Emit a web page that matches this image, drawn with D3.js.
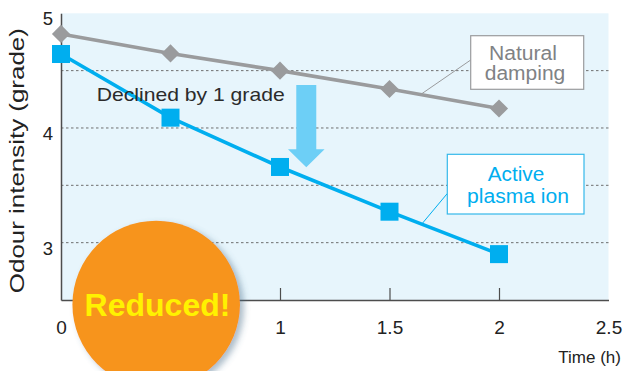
<!DOCTYPE html>
<html>
<head>
<meta charset="utf-8">
<script src="https://cdn.jsdelivr.net/npm/d3@7"></script>
<style>
  body { margin: 0; background: #fff; }
  svg { display: block; }
  text { font-family: "Liberation Sans", Arial, Helvetica, sans-serif; }
</style>
</head>
<body>
<svg id="chart" width="625" height="371"></svg>
<script>
// Odour intensity over time, with and without the plasma ion unit
const hours = [0, 0.5, 1, 1.5, 2];
const naturalDamping = [4.82, 4.65, 4.50, 4.34, 4.17];
const activePlasmaIon = [4.645, 4.09, 3.66, 3.27, 2.90];

// the 0.5 tick sits under the badge, so it carries no label
const xTicks = [0, 0.5, 1, 1.5, 2, 2.5];
const xTickLabels = ["0", "", "1", "1.5", "2", "2.5"];
const yTicks = [3, 4, 5];
const yTickLabels = ["3", "4", "5"];
const gridValues = [3, 3.5, 4, 4.5];

const seriesNames = ["Natural", "damping", "Active", "plasma ion"];
const axisTitles = { x: "Time (h)", y: "Odour intensity (grade)" };
const notes = { decline: "Declined by 1 grade", badge: "Reduced!" };

const BLUE = "#00aeef";
const GREY = "#9a9b9d";

const svg = d3.select("#chart");

const x = d3.scaleLinear().domain([0, 2.5]).range([61, 608.5]);
const y = d3.scaleLinear().domain([2.5, 5]).range([300, 13.3]);

// drop shadow for the badge
const defs = svg.append("defs");
const f = defs.append("filter").attr("id", "badgeShadow")
  .attr("x", "-20%").attr("y", "-20%").attr("width", "150%").attr("height", "150%");
f.append("feDropShadow").attr("dx", 4).attr("dy", 3).attr("stdDeviation", 3)
  .attr("flood-color", "#456a86").attr("flood-opacity", 0.45);

// plot background
svg.append("rect")
  .attr("x", x(0)).attr("y", y(5))
  .attr("width", x(2.5) - x(0)).attr("height", y(2.5) - y(5))
  .attr("fill", "#e7f5fc");

// dashed grid
svg.append("g").selectAll("line").data(gridValues).join("line")
  .attr("x1", x(0)).attr("x2", x(2.5))
  .attr("y1", d => y(d)).attr("y2", d => y(d))
  .attr("stroke", "#6f6f6f").attr("stroke-width", 1)
  .attr("stroke-dasharray", "2.5,2.5");

// x axis with inward ticks
const xAxis = svg.append("g")
  .attr("transform", `translate(0,${y(2.5)})`)
  .call(d3.axisBottom(x).tickValues(xTicks)
    .tickFormat((d, i) => xTickLabels[i])
    .tickSizeInner(-12).tickSizeOuter(0).tickPadding(21));
xAxis.select(".domain").attr("stroke", "#4d4d4d").attr("stroke-width", 1.5);
xAxis.selectAll(".tick line")
  .attr("stroke", "#4d4d4d").attr("stroke-width", 1.2)
  .attr("display", d => (d === 0 || d === 2.5) ? "none" : null);
xAxis.selectAll(".tick text")
  .attr("font-size", 19).attr("fill", "#222");

// y axis
const yAxis = svg.append("g")
  .attr("transform", `translate(${x(0)},0)`)
  .call(d3.axisLeft(y).tickValues(yTicks)
    .tickFormat((d, i) => yTickLabels[i])
    .tickSize(0).tickPadding(8));
yAxis.select(".domain").attr("stroke", "#4d4d4d").attr("stroke-width", 1.5);
yAxis.selectAll(".tick text")
  .attr("font-size", 18.5).attr("fill", "#222").attr("dy", "0.62em");

// axis titles
svg.append("text")
  .attr("transform", `translate(24,${(y(5) + y(2.5)) / 2 + 4}) rotate(-90)`)
  .attr("text-anchor", "middle").attr("font-size", 20).attr("fill", "#222")
  .attr("textLength", 265).attr("lengthAdjust", "spacingAndGlyphs")
  .text(axisTitles.y);
svg.append("text")
  .attr("x", 621).attr("y", 363)
  .attr("text-anchor", "end").attr("font-size", 17).attr("fill", "#222")
  .text(axisTitles.x);

// series
const line = d3.line().x(d => x(d[0])).y(d => y(d[1]));
const natPts = hours.map((h, i) => [h, naturalDamping[i]]);
const actPts = hours.map((h, i) => [h, activePlasmaIon[i]]);

// value on a series polyline at a given hour
function along(pts, h) {
  for (let i = 1; i < pts.length; i++) {
    if (h <= pts[i][0]) {
      const t = (h - pts[i - 1][0]) / (pts[i][0] - pts[i - 1][0]);
      return pts[i - 1][1] + t * (pts[i][1] - pts[i - 1][1]);
    }
  }
  return pts[pts.length - 1][1];
}

// leader lines from the labels to the series
const natLeadH = 1.642, actLeadH = 1.647;
svg.append("line")
  .attr("x1", 470.7).attr("y1", 60)
  .attr("x2", x(natLeadH)).attr("y2", y(along(natPts, natLeadH)))
  .attr("stroke", GREY).attr("stroke-width", 1);
svg.append("line")
  .attr("x1", 447.3).attr("y1", 193.5)
  .attr("x2", x(actLeadH)).attr("y2", y(along(actPts, actLeadH)))
  .attr("stroke", BLUE).attr("stroke-width", 1);

svg.append("path").datum(natPts).attr("d", line)
  .attr("fill", "none").attr("stroke", GREY).attr("stroke-width", 3.6);
svg.append("g").selectAll("path").data(natPts).join("path")
  .attr("transform", d => `translate(${x(d[0])},${y(d[1])}) rotate(45)`)
  .attr("d", d3.symbol(d3.symbolSquare, 165)())
  .attr("fill", GREY);

svg.append("path").datum(actPts).attr("d", line)
  .attr("fill", "none").attr("stroke", BLUE).attr("stroke-width", 3.6);
svg.append("g").selectAll("rect").data(actPts).join("rect")
  .attr("x", d => x(d[0]) - 9).attr("y", d => y(d[1]) - 9)
  .attr("width", 18).attr("height", 18)
  .attr("fill", BLUE);

// label boxes
svg.append("rect").attr("x", 470.7).attr("y", 35.7)
  .attr("width", 113).attr("height", 53.6)
  .attr("fill", "#fff").attr("stroke", GREY).attr("stroke-width", 1.2);
svg.append("text").attr("x", 523).attr("y", 60)
  .attr("text-anchor", "middle").attr("font-size", 20).attr("fill", "#808285")
  .attr("textLength", 68).attr("lengthAdjust", "spacingAndGlyphs")
  .text(seriesNames[0]);
svg.append("text").attr("x", 525).attr("y", 80)
  .attr("text-anchor", "middle").attr("font-size", 20).attr("fill", "#808285")
  .attr("textLength", 80.5).attr("lengthAdjust", "spacingAndGlyphs")
  .text(seriesNames[1]);

svg.append("rect").attr("x", 447.3).attr("y", 154.3)
  .attr("width", 136.7).attr("height", 59.7)
  .attr("fill", "#fff").attr("stroke", "#35b8ea").attr("stroke-width", 1.2);
svg.append("text").attr("x", 516).attr("y", 180.5)
  .attr("text-anchor", "middle").attr("font-size", 20).attr("fill", BLUE)
  .attr("textLength", 56.5).attr("lengthAdjust", "spacingAndGlyphs")
  .text(seriesNames[2]);
svg.append("text").attr("x", 518).attr("y", 202.5)
  .attr("text-anchor", "middle").attr("font-size", 20).attr("fill", BLUE)
  .attr("textLength", 102).attr("lengthAdjust", "spacingAndGlyphs")
  .text(seriesNames[3]);

// decline note with downward arrow
svg.append("text").attr("x", 96.7).attr("y", 100.7)
  .attr("font-size", 18.5).attr("fill", "#2b2b2b")
  .attr("textLength", 188).attr("lengthAdjust", "spacingAndGlyphs")
  .text(notes.decline);

const arrowH = 1.12, arrowTop = 4.375, arrowTip = 3.657;
const ax = x(arrowH), aTop = y(arrowTop), aTip = y(arrowTip);
const shaftHalf = 10, headHalf = 18.3, headLen = 18;
svg.append("path")
  .attr("d", d3.line()([
    [ax - shaftHalf, aTop], [ax + shaftHalf, aTop],
    [ax + shaftHalf, aTip - headLen], [ax + headHalf, aTip - headLen],
    [ax, aTip], [ax - headHalf, aTip - headLen],
    [ax - shaftHalf, aTip - headLen]
  ]) + "Z")
  .attr("fill", "#6dcff6");

// badge
svg.append("circle")
  .attr("cx", 156.2).attr("cy", 304.5).attr("r", 83.8)
  .attr("fill", "#f7941e").attr("filter", "url(#badgeShadow)");
svg.append("text").attr("x", 157.5).attr("y", 316)
  .attr("text-anchor", "middle").attr("font-size", 32).attr("font-weight", "bold")
  .attr("fill", "#fff200")
  .text(notes.badge);
</script>
</body>
</html>
